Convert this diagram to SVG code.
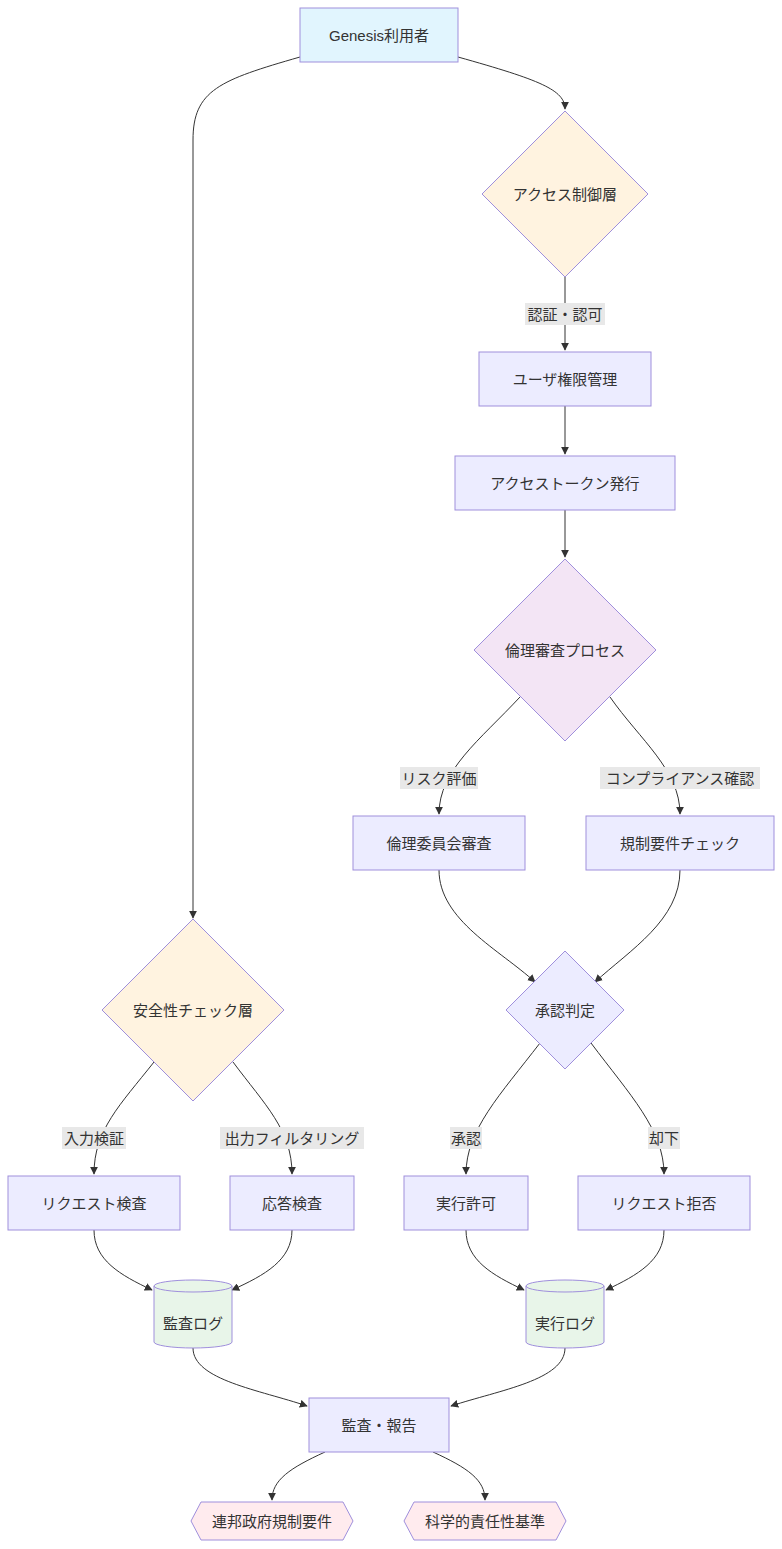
<svg xmlns="http://www.w3.org/2000/svg" width="782" height="1549" viewBox="0 0 782 1549">
<style>
text{font-family:"Liberation Sans","Noto Sans CJK JP",sans-serif;font-size:15px;fill:#333;text-anchor:middle;dominant-baseline:central}
.n{fill:#ececff;stroke:#9f8fdc;stroke-width:1}
.e{fill:none;stroke:#333;stroke-width:1;marker-end:url(#a)}
.lb{fill:#e8e8e8}
</style>
<defs><marker id="a" viewBox="0 0 10 10" refX="9" refY="5" markerWidth="8" markerHeight="8" orient="auto"><path d="M0,0L10,5L0,10z" fill="#333"/></marker></defs>
<rect width="782" height="1549" fill="#fff"/>
<g id="edges">
<path class="e" d="M300,57C220,80 193,90 193,140L193,918"/>
<path class="e" d="M458,57C540,80 565,90 565,109"/>
<path class="e" d="M565,277L565,350"/>
<path class="e" d="M565,406L565,454"/>
<path class="e" d="M565,510L565,557"/>
<path class="e" d="M520,697C480,740 439,770 439,814"/>
<path class="e" d="M610,697C640,740 680,770 680,814"/>
<path class="e" d="M439,870C439,920 500,950 535,982"/>
<path class="e" d="M680,870C680,920 630,950 595,982"/>
<path class="e" d="M540,1043C500,1095 466,1130 466,1174"/>
<path class="e" d="M591,1043C630,1095 664,1130 664,1174"/>
<path class="e" d="M154,1062C120,1105 94,1130 94,1174"/>
<path class="e" d="M233,1062C265,1105 292,1130 292,1174"/>
<path class="e" d="M94,1230C94,1260 120,1275 152,1290"/>
<path class="e" d="M292,1230C292,1260 265,1275 232,1290"/>
<path class="e" d="M466,1230C466,1260 492,1275 524,1290"/>
<path class="e" d="M664,1230C664,1260 638,1275 606,1290"/>
<path class="e" d="M193,1348C193,1380 260,1390 307,1406"/>
<path class="e" d="M565,1348C565,1380 500,1390 451,1406"/>
<path class="e" d="M325,1452C290,1468 272,1480 272,1500"/>
<path class="e" d="M433,1452C468,1468 485,1480 485,1500"/>
</g>
<g id="edge-labels">
<rect class="lb" x="525" y="303" width="80" height="22"/><text x="565" y="314">認証・認可</text>
<rect class="lb" x="400" y="767" width="78" height="22"/><text x="439" y="778">リスク評価</text>
<rect class="lb" x="600" y="767" width="160" height="22"/><text x="680" y="778">コンプライアンス確認</text>
<rect class="lb" x="450" y="1127" width="32" height="22"/><text x="466" y="1138">承認</text>
<rect class="lb" x="648" y="1127" width="32" height="22"/><text x="664" y="1138">却下</text>
<rect class="lb" x="62" y="1127" width="64" height="22"/><text x="94" y="1138">入力検証</text>
<rect class="lb" x="220" y="1127" width="144" height="22"/><text x="292" y="1138">出力フィルタリング</text>
</g>
<g id="genesis"><rect class="n" x="300" y="8" width="158" height="54" style="fill:#e1f5fe"/><text x="379" y="35">Genesis利用者</text></g>
<g id="access"><path class="n" d="M565,111L648,194L565,277L482,194z" style="fill:#fff3e0"/><text x="565" y="194">アクセス制御層</text></g>
<g id="user"><rect class="n" x="479" y="352" width="172" height="54"/><text x="565" y="379">ユーザ権限管理</text></g>
<g id="token"><rect class="n" x="455" y="456" width="220" height="54"/><text x="565" y="483">アクセストークン発行</text></g>
<g id="ethics"><path class="n" d="M565,559L656,650L565,741L474,650z" style="fill:#f3e5f5"/><text x="565" y="650">倫理審査プロセス</text></g>
<g id="committee"><rect class="n" x="353" y="816" width="172" height="54"/><text x="439" y="843">倫理委員会審査</text></g>
<g id="regcheck"><rect class="n" x="586" y="816" width="188" height="54"/><text x="680" y="843">規制要件チェック</text></g>
<g id="approve"><path class="n" d="M565,951L624,1010L565,1069L506,1010z"/><text x="565" y="1010">承認判定</text></g>
<g id="safety"><path class="n" d="M193,919L284,1010L193,1101L102,1010z" style="fill:#fff3e0"/><text x="193" y="1010">安全性チェック層</text></g>
<g id="reqcheck"><rect class="n" x="8" y="1176" width="172" height="54"/><text x="94" y="1203">リクエスト検査</text></g>
<g id="respcheck"><rect class="n" x="230" y="1176" width="124" height="54"/><text x="292" y="1203">応答検査</text></g>
<g id="allow"><rect class="n" x="404" y="1176" width="124" height="54"/><text x="466" y="1203">実行許可</text></g>
<g id="reject"><rect class="n" x="578" y="1176" width="172" height="54"/><text x="664" y="1203">リクエスト拒否</text></g>
<g id="auditlog"><path class="n" d="M154,1286A39,6 0 0 1 232,1286L232,1342A39,6 0 0 1 154,1342z" style="fill:#e8f5e9"/><path d="M154,1286A39,6 0 0 0 232,1286" fill="none" stroke="#9f8fdc"/><text x="193" y="1323">監査ログ</text></g>
<g id="execlog"><path class="n" d="M526,1286A39,6 0 0 1 604,1286L604,1342A39,6 0 0 1 526,1342z" style="fill:#e8f5e9"/><path d="M526,1286A39,6 0 0 0 604,1286" fill="none" stroke="#9f8fdc"/><text x="565" y="1323">実行ログ</text></g>
<g id="report"><rect class="n" x="309" y="1398" width="140" height="54"/><text x="379" y="1425">監査・報告</text></g>
<g id="federal"><path class="n" d="M201,1502L343,1502L353,1521L343,1540L201,1540L191,1521z" style="fill:#ffebee"/><text x="272" y="1521">連邦政府規制要件</text></g>
<g id="science"><path class="n" d="M414,1502L556,1502L566,1521L556,1540L414,1540L404,1521z" style="fill:#ffebee"/><text x="485" y="1521">科学的責任性基準</text></g>
</svg>
